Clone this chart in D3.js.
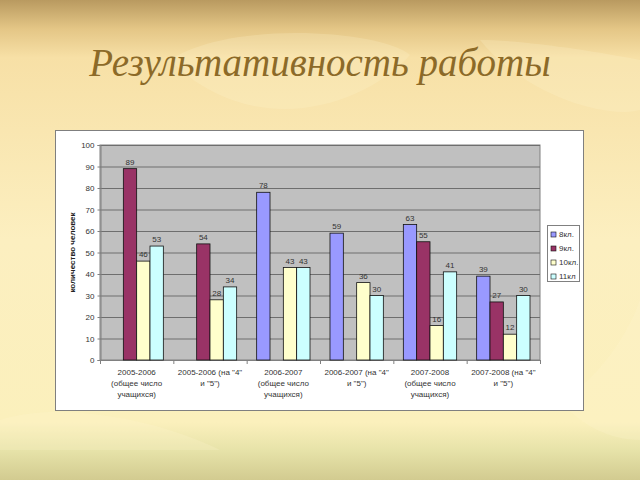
<!DOCTYPE html>
<html>
<head>
<meta charset="utf-8">
<script src="https://cdn.jsdelivr.net/npm/d3@7"></script>
<style>
  body { margin: 0; }
  svg { display: block; font-family: "Liberation Sans", Arial, sans-serif; }
</style>
</head>
<body>
<div id="chart"></div>
<script>
// Data (null = no bar)
const categories = [
    ["2005-2006", "(общее число", "учащихся)"],
    ["2005-2006 (на \"4\"", "и \"5\")"],
    ["2006-2007", "(общее число", "учащихся)"],
    ["2006-2007 (на \"4\"", "и \"5\")"],
    ["2007-2008", "(общее число", "учащихся)"],
    ["2007-2008 (на \"4\"", "и \"5\")"]
];
const seriesNames = ["8кл.", "9кл.", "10кл.", "11кл"];
const grade8 = [null, null, 78, 59, 63, 39];
const grade9 = [89, 54, null, null, 55, 27];
const grade10 = [46, 28, 43, 36, 16, 12];
const grade11 = [53, 34, 43, 30, 41, 30];
const yTicks = [0, 10, 20, 30, 40, 50, 60, 70, 80, 90, 100];

const seriesColors = ["#9999ff", "#993366", "#ffffcc", "#ccffff"];
const allSeries = [grade8, grade9, grade10, grade11];

const width = 640, height = 480;
const svg = d3.select("#chart").append("svg")
    .attr("width", width)
    .attr("height", height);

// Background: cream slide with darker bands top and bottom
const defs = svg.append("defs");
const bg = defs.append("linearGradient").attr("id", "bg")
    .attr("x1", 0).attr("y1", 0).attr("x2", 0).attr("y2", 1);
[[0, "#b99a60"], [0.06, "#e4c686"], [0.12, "#f7e0a6"], [0.5, "#fcefc0"],
 [0.88, "#fbf0bc"], [0.94, "#e6e2a8"], [1, "#d2cb90"]]
    .forEach(([o, c]) => bg.append("stop").attr("offset", o).attr("stop-color", c));
svg.append("rect").attr("width", width).attr("height", height).attr("fill", "url(#bg)");

// faint leaf shapes
const leaves = svg.append("g").attr("fill", "#fff6d0").attr("opacity", 0.22);
leaves.append("path").attr("d", "M170,60 C230,20 380,30 410,55 C360,110 250,140 170,60 Z");
leaves.append("path").attr("d", "M480,40 C520,90 600,120 640,110 L640,60 C590,50 520,40 480,40 Z");
leaves.append("path").attr("d", "M0,420 C60,400 160,420 220,450 L0,450 Z");
leaves.append("path").attr("d", "M560,400 C600,380 630,330 640,300 L640,440 C610,440 580,425 560,400 Z");

// Title
svg.append("text")
    .attr("x", 320)
    .attr("y", 76)
    .attr("text-anchor", "middle")
    .attr("font-family", "'Liberation Serif', 'DejaVu Serif', serif")
    .attr("font-style", "italic")
    .attr("font-size", 39)
    .attr("fill", "#8c6a28")
    .text("Результативность работы");

// Chart box
svg.append("rect")
    .attr("x", 55.5).attr("y", 130.5)
    .attr("width", 528).attr("height", 280)
    .attr("fill", "#ffffff")
    .attr("stroke", "#7f7f7f")
    .attr("stroke-width", 1);

const plot = { left: 100, top: 145, right: 540, bottom: 360 };

const x = d3.scaleBand()
    .domain(d3.range(categories.length))
    .range([plot.left, plot.right]);
const xInner = d3.scaleBand()
    .domain(d3.range(seriesNames.length))
    .range([0, x.bandwidth()])
    .paddingOuter(0.75);
const y = d3.scaleLinear()
    .domain([0, 100])
    .range([plot.bottom, plot.top]);

// Plot area
svg.append("rect")
    .attr("x", plot.left).attr("y", plot.top)
    .attr("width", plot.right - plot.left).attr("height", plot.bottom - plot.top)
    .attr("fill", "#c0c0c0")
    .attr("stroke", "#808080");

// Gridlines
svg.append("g")
    .selectAll("line")
    .data(yTicks.filter(d => d > 0))
    .join("line")
    .attr("x1", plot.left).attr("x2", plot.right)
    .attr("y1", d => y(d) + 0.5).attr("y2", d => y(d) + 0.5)
    .attr("stroke", "#6e6e6e")
    .attr("stroke-width", 1);

// Y axis
const yAxis = svg.append("g")
    .attr("transform", `translate(${plot.left + 0.5},0)`)
    .call(d3.axisLeft(y).tickValues(yTicks).tickSize(3).tickPadding(3));
yAxis.select(".domain").attr("stroke", "#808080");
yAxis.selectAll(".tick line").attr("stroke", "#808080");
yAxis.selectAll("text").attr("font-size", 8).attr("fill", "#333");

// X axis baseline and ticks between categories
svg.append("line")
    .attr("x1", plot.left).attr("x2", plot.right)
    .attr("y1", plot.bottom + 0.5).attr("y2", plot.bottom + 0.5)
    .attr("stroke", "#808080");
svg.append("g")
    .selectAll("line")
    .data(d3.range(categories.length + 1))
    .join("line")
    .attr("x1", i => (i < categories.length ? x(i) : plot.right) + 0.5)
    .attr("x2", i => (i < categories.length ? x(i) : plot.right) + 0.5)
    .attr("y1", plot.bottom).attr("y2", plot.bottom + 4)
    .attr("stroke", "#808080");

// Category labels
svg.append("g")
    .selectAll("text")
    .data(categories)
    .join("text")
    .attr("x", (d, i) => x(i) + x.bandwidth() / 2)
    .attr("y", 375)
    .attr("text-anchor", "middle")
    .attr("font-size", 8)
    .attr("fill", "#333")
    .selectAll("tspan")
    .data(d => d)
    .join("tspan")
    .attr("x", function () { return this.parentNode.getAttribute("x"); })
    .attr("dy", (d, j) => j === 0 ? 0 : 11)
    .text(d => d);

// Y axis title
svg.append("text")
    .attr("transform", `translate(75,${(plot.top + plot.bottom) / 2}) rotate(-90)`)
    .attr("text-anchor", "middle")
    .attr("font-size", 8)
    .attr("font-weight", "bold")
    .attr("fill", "#222")
    .text("количество человек");

// Bars
const bars = [];
allSeries.forEach((vals, s) => {
    vals.forEach((v, c) => {
        if (v !== null) bars.push({ s, c, v });
    });
});

svg.append("g")
    .selectAll("rect")
    .data(bars)
    .join("rect")
    .attr("x", d => x(d.c) + xInner(d.s))
    .attr("y", d => y(d.v))
    .attr("width", xInner.bandwidth())
    .attr("height", d => y(0) - y(d.v))
    .attr("fill", d => seriesColors[d.s])
    .attr("stroke", "#111")
    .attr("stroke-width", 0.8);

// Value labels
svg.append("g")
    .selectAll("text")
    .data(bars)
    .join("text")
    .attr("x", d => x(d.c) + xInner(d.s) + xInner.bandwidth() / 2)
    .attr("y", d => y(d.v) - 4)
    .attr("text-anchor", "middle")
    .attr("font-size", 8)
    .attr("fill", "#333")
    .text(d => d.v);

// Legend
const legend = svg.append("g").attr("transform", "translate(547,225)");
legend.append("rect")
    .attr("x", 0.5).attr("y", 0.5)
    .attr("width", 32).attr("height", 56)
    .attr("fill", "#fff")
    .attr("stroke", "#808080");
const items = legend.selectAll("g.item")
    .data(seriesNames)
    .join("g")
    .attr("class", "item")
    .attr("transform", (d, i) => `translate(4,${7 + i * 14})`);
items.append("rect")
    .attr("width", 5).attr("height", 5)
    .attr("fill", (d, i) => seriesColors[i])
    .attr("stroke", "#111")
    .attr("stroke-width", 0.6);
items.append("text")
    .attr("x", 8).attr("y", 5)
    .attr("font-size", 8)
    .attr("fill", "#333")
    .text(d => d);
</script>
</body>
</html>
